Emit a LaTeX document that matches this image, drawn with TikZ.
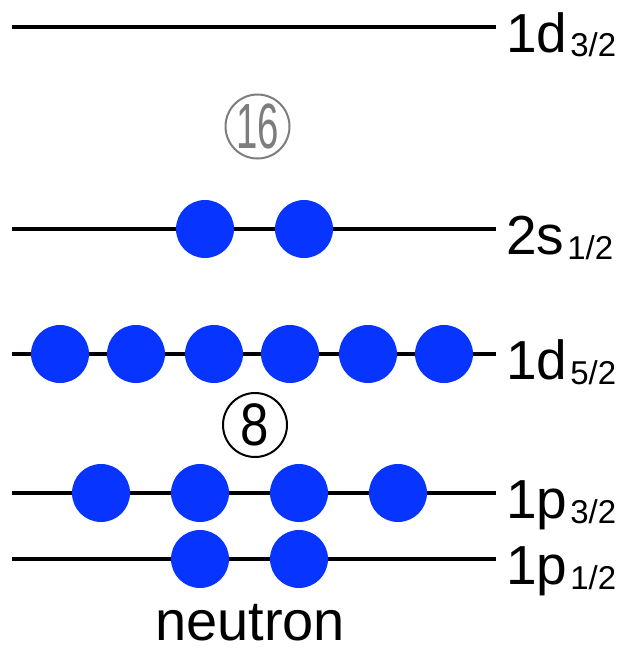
\documentclass[tikz,border=0pt]{standalone}
\usepackage{fontspec}
\setmainfont{Liberation Sans}
\usepackage{tikz}
\usetikzlibrary{positioning}
\usepackage{xcolor}
\definecolor{nucleoncolor}{RGB}{8,52,255}
\definecolor{magicgray}{RGB}{125,125,125}

\newcommand{\levellabel}[2]{{\fontsize{55}{60}\selectfont #1}\kern3pt\raisebox{-5pt}{\fontsize{33}{36}\selectfont #2}}

\begin{document}
\begin{tikzpicture}[x=1pt, y=-1pt,
    level/.style={line width=3.8pt, black},
    nucleon/.style={circle, fill=nucleoncolor, minimum size=58pt, inner sep=0pt},
    magic/.style={circle, line width=2pt, minimum size=64pt, inner sep=0pt}]
        \useasboundingbox (0,0) rectangle (630,653);

        % shell levels with their labels
        \foreach \name/\y/\orb/\sub in {d32/27/1d/3\slash 2, s12/229/2s/1\slash 2, d52/354/1d/5\slash 2, p32/493/1p/3\slash 2, p12/559/1p/1\slash 2} {
          \coordinate (\name-l) at (12,\y);
          \coordinate (\name-r) at (496,\y);
          \draw[level] (\name-l) -- (\name-r);
          \node[anchor=base west, inner sep=0pt] (\name-lbl) at (506,\y+25) {\levellabel{\orb}{\sub}};
        }

        % occupied states
        \foreach \x [count=\i] in {205,304} \node[nucleon] (s12-n\i) at (\x,229) {};
        \foreach \x [count=\i] in {60,136,214,290,368,444} \node[nucleon] (d52-n\i) at (\x,354) {};
        \foreach \x [count=\i] in {101,200,299,398} \node[nucleon] (p32-n\i) at (\x,493) {};
        \foreach \x [count=\i] in {200,299} \node[nucleon] (p12-n\i) at (\x,559) {};

        % magic numbers
        \node[magic, draw=magicgray, text=magicgray] (magic16) at (257.5,126.5)
          {\fontsize{64}{64}\selectfont\scalebox{0.6}[1]{16}};
        \node[magic, draw=black] (magic8) at (255,425)
          {\fontsize{60}{60}\selectfont\scalebox{0.85}[1]{8}};

        \node[anchor=base, inner sep=0pt] (title) at (250,640) {\fontsize{56}{60}\selectfont neutron};
      \end{tikzpicture}
\end{document}
